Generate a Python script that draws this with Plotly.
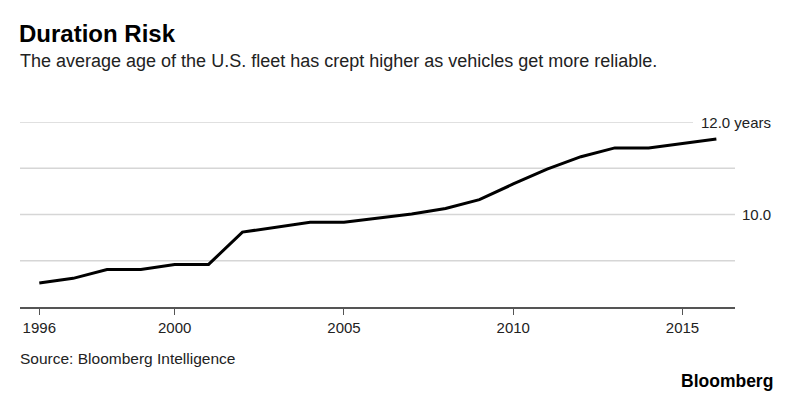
import plotly.graph_objects as go

years = list(range(1996, 2017))
avg_age = [8.52, 8.62, 8.81, 8.81, 8.92, 8.92, 9.62, 9.72, 9.83, 9.83, 9.92,
           10.01, 10.13, 10.32, 10.66, 10.98, 11.25, 11.44, 11.44, 11.53, 11.63]
x_ticks = [1996, 2000, 2005, 2010, 2015]
y_grid = [9, 10, 11, 12]
y_labels = {12: "12.0 years", 10: "10.0"}

FONT = "Liberation Sans, Arial, Helvetica, sans-serif"

fig = go.Figure()
fig.add_trace(go.Scatter(x=years, y=avg_age, mode="lines",
                         line=dict(color="#000000", width=3), hoverinfo="skip"))

L, R, T, B = 20, 65, 122, 91
plot_w = 800 - L - R

shapes = []
for g in y_grid:
    x1 = (693 - L) / plot_w if g == 12 else 1
    shapes.append(dict(type="line", xref="paper", yref="y", x0=0, x1=x1, y0=g, y1=g,
                       line=dict(color="#d6d6d6", width=1.3), layer="below"))

annotations = []
for val, txt in y_labels.items():
    annotations.append(dict(xref="paper", yref="y", x=(773 - L) / plot_w, y=val, text=txt,
                            showarrow=False, xanchor="right", yanchor="middle",
                            font=dict(family=FONT, size=15, color="#222")))

def at(px, py):
    return dict(xref="paper", yref="paper", x=(px - L) / plot_w,
                y=(398 - B - py) / (398 - T - B))

annotations += [
    dict(**at(17, 33), text="<b>Duration Risk</b>", showarrow=False,
         xanchor="left", yanchor="middle", font=dict(family=FONT, size=24, color="#000")),
    dict(**at(18, 61),
         text="The average age of the U.S. fleet has crept higher as vehicles get more reliable.",
         showarrow=False, xanchor="left", yanchor="middle",
         font=dict(family=FONT, size=18, color="#222")),
    dict(**at(18, 358), text="Source: Bloomberg Intelligence", showarrow=False,
         xanchor="left", yanchor="middle", font=dict(family=FONT, size=15.5, color="#222")),
    dict(**at(775, 381), text="<b>Bloomberg</b>", showarrow=False,
         xanchor="right", yanchor="middle", font=dict(family=FONT, size=17.5, color="#000")),
]

fig.update_layout(
    width=800, height=398,
    margin=dict(l=L, r=R, t=T, b=B),
    paper_bgcolor="white", plot_bgcolor="white",
    showlegend=False,
    shapes=shapes,
    annotations=annotations,
    xaxis=dict(range=[1995.43, 2016.55], tickvals=x_ticks, ticktext=[str(t) for t in x_ticks],
               showgrid=False, zeroline=False, showline=True, linecolor="#555", linewidth=1.5,
               ticks="outside", ticklen=6, tickwidth=1.2, tickcolor="#555",
               tickfont=dict(family=FONT, size=15, color="#222")),
    yaxis=dict(range=[8, 12], showgrid=False, zeroline=False, showticklabels=False,
               showline=False),
)

fig.write_html("out.html", config={"displayModeBar": False},
               post_script="document.body.style.margin='0';")
